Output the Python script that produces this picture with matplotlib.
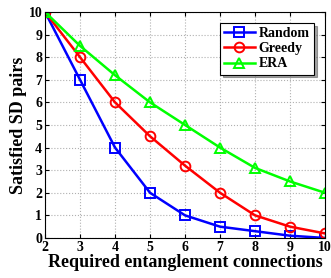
import matplotlib.pyplot as plt

plt.rcParams['font.family'] = 'Liberation Serif'
plt.rcParams['font.weight'] = 'bold'

# Datos
conexiones = [2, 3, 4, 5, 6, 7, 8, 9, 10]
random_vals = [10, 7, 4, 2, 1, 0.5, 0.3, 0.1, 0.0]
greedy_vals = [10, 8, 6, 4.5, 3.2, 2, 1, 0.5, 0.2]
era_vals = [10, 8.5, 7.2, 6, 5, 4, 3.1, 2.5, 2]

fig = plt.figure(figsize=(3.31, 2.78), dpi=100)
ax = fig.add_axes([0.136, 0.144, 0.846, 0.813])

ax.plot(conexiones, random_vals, color='blue', marker='s', mfc='none', ms=6.5, lw=1.8, mew=1.4, label='Random')
ax.plot(conexiones, greedy_vals, color='red', marker='o', mfc='none', ms=7, lw=1.8, mew=1.4, label='Greedy')
ax.plot(conexiones, era_vals, color='lime', marker='^', mfc='none', ms=7.5, lw=1.8, mew=1.4, label='ERA')

ax.set_xlim(2, 10)
ax.set_ylim(0, 10)
ax.set_xticks(range(2, 11))
ax.set_yticks(range(0, 11))
ax.grid(True, linestyle=':', color='#b0b0b0', lw=0.8)
ax.tick_params(direction='in', top=True, right=True, labelsize=10, length=3, pad=2)
for lbl in ax.get_xticklabels() + ax.get_yticklabels():
    lbl.set_fontweight('bold')

ax.set_xlabel('Required entanglement connections', fontsize=13, fontweight='bold', labelpad=0)
ax.set_ylabel('Satisfied SD pairs', fontsize=13, fontweight='bold', labelpad=1)

leg = ax.legend(loc='upper right', fontsize=10, shadow=True, fancybox=False,
                edgecolor='black', handlelength=2.2, borderaxespad=0.8,
                labelspacing=0.15, handletextpad=0.3, borderpad=0.3)
leg.get_frame().set_linewidth(0.8)

fig.savefig('out.png', dpi=100)
